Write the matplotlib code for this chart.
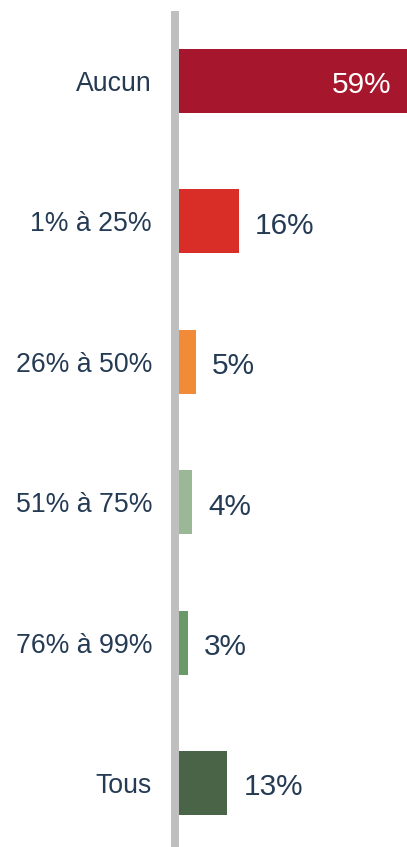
import matplotlib
matplotlib.use("Agg")
import matplotlib.pyplot as plt
from matplotlib.patches import Rectangle

categories = ["Aucun", "1% à 25%", "26% à 50%", "51% à 75%", "76% à 99%", "Tous"]
values = [59, 16, 5, 4, 3, 13]
value_labels = ["59%", "16%", "5%", "4%", "3%", "13%"]
colors = ["#A6172D", "#D92E27", "#F28B38", "#9BB896", "#6A9A68", "#4A6447"]

text_color = "#253B54"
plt.rcParams['font.family'] = ['Liberation Sans', 'DejaVu Sans']

W, H = 407, 847
fig = plt.figure(figsize=(W / 100, H / 100), dpi=100)

left_px = 176.5
top_px = 10.8
row_px = 140.4
ax_h = 6 * row_px
ax = fig.add_axes([left_px / W, 1 - (top_px + ax_h) / H, 1 - left_px / W, ax_h / H])

y = list(range(len(categories)))
ax.barh(y, values, height=0.456, color=colors, zorder=2)
ax.set_xlim(0, 59)
ax.set_ylim(5.5, -0.5)

for i, (v, lab) in enumerate(zip(values, value_labels)):
    if v >= 40:
        ax.annotate(lab, (v, i), xytext=(-16 * 0.72, -1), textcoords="offset points",
                    ha="right", va="center_baseline", color="white", fontsize=21.4)
    else:
        ax.annotate(lab, (v, i), xytext=(16 * 0.72, -1), textcoords="offset points",
                    ha="left", va="center_baseline", color=text_color, fontsize=21.4)

ax.set_yticks(y)
ax.set_yticklabels(categories, fontsize=19.2, color=text_color)
ax.tick_params(axis="y", length=0, pad=24.5 * 0.72)
ax.set_xticks([])
for s in ax.spines.values():
    s.set_visible(False)

# gray vertical axis line
fig.add_artist(Rectangle((171 / W, 0), 8 / W, 1 - 11 / H, transform=fig.transFigure,
                         facecolor="#BFBFBF", edgecolor="none", zorder=10))

fig.savefig("out.png", dpi=100)
